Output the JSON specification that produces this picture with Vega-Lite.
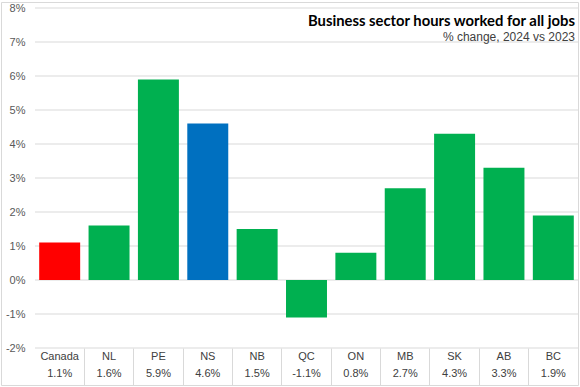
{
  "$schema": "https://vega.github.io/schema/vega-lite/v6.json",
  "width": 577,
  "height": 383,
  "autosize": {"type": "none"},
  "padding": {"left": 1, "top": 2, "right": 2, "bottom": 2},
  "background": "white",
  "config": {
    "view": {"stroke": "#d9d9d9", "strokeWidth": 1},
    "font": "Liberation Sans"
  },
  "title": {
    "text": "Business sector hours worked for all jobs",
    "subtitle": "% change, 2024 vs 2023",
    "anchor": "end",
    "frame": "group",
    "orient": "top",
    "offset": -41,
    "dx": -3,
    "font": "Lato",
    "fontSize": 14.8,
    "fontWeight": "bold",
    "color": "#000000",
    "subtitleFont": "Liberation Sans",
    "subtitleFontSize": 12,
    "subtitleColor": "#404040",
    "subtitlePadding": 3
  },
  "datasets": {
    "bars": [
      {"region": "Canada", "value": 1.1, "label": "1.1%", "kind": "Canada"},
      {"region": "NL", "value": 1.6, "label": "1.6%", "kind": "Province"},
      {"region": "PE", "value": 5.9, "label": "5.9%", "kind": "Province"},
      {"region": "NS", "value": 4.6, "label": "4.6%", "kind": "Nova Scotia"},
      {"region": "NB", "value": 1.5, "label": "1.5%", "kind": "Province"},
      {"region": "QC", "value": -1.1, "label": "-1.1%", "kind": "Province"},
      {"region": "ON", "value": 0.8, "label": "0.8%", "kind": "Province"},
      {"region": "MB", "value": 2.7, "label": "2.7%", "kind": "Province"},
      {"region": "SK", "value": 4.3, "label": "4.3%", "kind": "Province"},
      {"region": "AB", "value": 3.3, "label": "3.3%", "kind": "Province"},
      {"region": "BC", "value": 1.9, "label": "1.9%", "kind": "Province"}
    ],
    "grid": [
      {"level": -2}, {"level": -1}, {"level": 0}, {"level": 1}, {"level": 2},
      {"level": 3}, {"level": 4}, {"level": 5}, {"level": 6}, {"level": 7}, {"level": 8}
    ]
  },
  "encoding": {
    "x": {
      "field": "region",
      "type": "nominal",
      "sort": null,
      "scale": {
        "domain": ["Canada", "NL", "PE", "NS", "NB", "QC", "ON", "MB", "SK", "AB", "BC"],
        "range": [34, 577],
        "paddingInner": 0,
        "paddingOuter": 0
      },
      "axis": {
        "orient": "bottom",
        "title": null,
        "labels": false,
        "domain": false,
        "bandPosition": 0,
        "tickSize": -37,
        "tickWidth": 1,
        "tickColor": {"condition": {"test": "datum.value === 'Canada'", "value": "transparent"}, "value": "#d9d9d9"}
      }
    }
  },
  "layer": [
    {
      "data": {"name": "grid"},
      "mark": {"type": "rule", "color": "#d9d9d9", "strokeWidth": 1},
      "encoding": {
        "y": {
          "field": "level",
          "type": "quantitative",
          "scale": {"domain": [-2, 8], "range": [346, 6], "nice": false, "zero": false},
          "axis": {
            "orient": "left",
            "title": null,
            "values": [-2, -1, 0, 1, 2, 3, 4, 5, 6, 7, 8],
            "tickCount": 11,
            "labelOverlap": false,
            "labelExpr": "datum.value + '%'",
            "grid": false,
            "domain": false,
            "ticks": false,
            "offset": -24,
            "labelPadding": 0,
            "labelFontSize": 11,
            "labelColor": "#595959",
            "labelFont": "Liberation Sans"
          }
        },
        "x": {"datum": "Canada", "bandPosition": 0},
        "x2": {"datum": "BC", "bandPosition": 1}
      }
    },
    {
      "data": {"name": "bars"},
      "mark": {"type": "bar", "width": {"band": 0.83}},
      "encoding": {
        "y": {"field": "value", "type": "quantitative"},
        "y2": {"datum": 0},
        "color": {
          "field": "kind",
          "type": "nominal",
          "scale": {"domain": ["Canada", "Nova Scotia", "Province"], "range": ["#ff0000", "#0070c0", "#00b050"]},
          "legend": null
        }
      }
    },
    {
      "data": {"name": "bars"},
      "mark": {"type": "text", "baseline": "middle", "align": "center", "dy": 9, "fontSize": 11, "color": "#404040"},
      "encoding": {
        "y": {"datum": -2},
        "text": {"field": "region"}
      }
    },
    {
      "data": {"name": "bars"},
      "mark": {"type": "text", "baseline": "middle", "align": "center", "dy": 26, "fontSize": 11, "color": "#404040"},
      "encoding": {
        "y": {"datum": -2},
        "text": {"field": "label"}
      }
    }
  ]
}
